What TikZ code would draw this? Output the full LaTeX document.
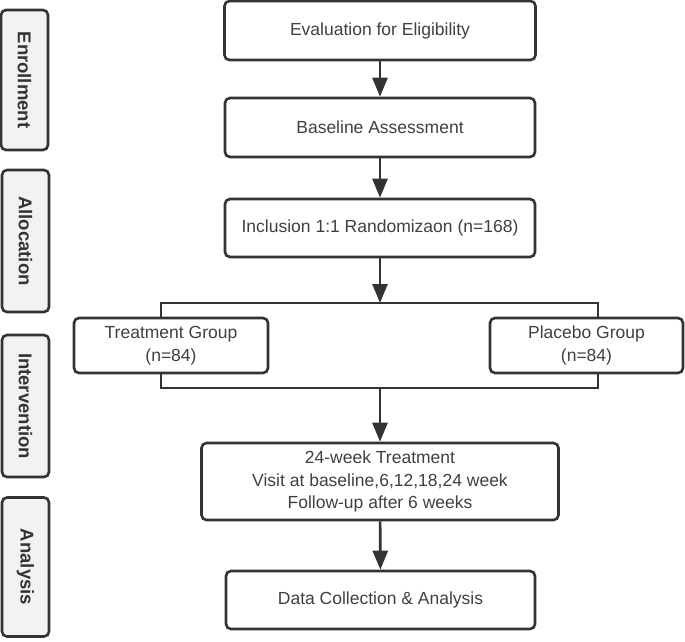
\documentclass[tikz,border=0pt]{standalone}
\usepackage{fontspec}
\setmainfont{Liberation Sans}
\usetikzlibrary{arrows.meta}
\definecolor{sqsqsq}{rgb}{0.2,0.2,0.2}
\definecolor{wwwwww}{rgb}{0.25,0.25,0.25}
\definecolor{fgfgfg}{rgb}{0.95,0.95,0.95}
\tikzset{
  box/.style={draw=sqsqsq,line width=2.6pt,rounded corners=5pt,fill=white,
    text=wwwwww,align=center,inner sep=0pt,
    font=\fontsize{17.5}{22.5}\selectfont},
  stage/.style={draw=sqsqsq,line width=2.6pt,rounded corners=5pt,fill=fgfgfg,
    text=sqsqsq,rotate=-90,inner sep=0pt,
    font=\fontsize{18.5}{22}\selectfont\bfseries},
  flow/.style={draw=sqsqsq,line width=2.6pt,-{Triangle[length=19pt,width=15pt]}},
  link/.style={draw=sqsqsq,line width=2.6pt}
}
\begin{document}
\begin{tikzpicture}[x=1pt,y=-1pt]
	\useasboundingbox (0,0) rectangle (685,641);
	% stages on the left
	\node[stage,minimum width=140,minimum height=47] (enrol) at (24.5,80) {Enrollment};
	\node[stage,minimum width=142,minimum height=47] (alloc) at (25.5,241) {Allocation};
	\node[stage,minimum width=142,minimum height=47] (inter) at (25.5,406) {Intervention};
	\node[stage,minimum width=139,minimum height=47] (anal) at (25.5,567) {Analysis};
	% main flow
	\node[box,minimum width=311,minimum height=59] (elig) at (380,30.5) {Evaluation for Eligibility};
	\node[box,minimum width=310,minimum height=59] (base) at (380,127.5) {Baseline Assessment};
	\node[box,minimum width=310,minimum height=58] (incl) at (380,228) {Inclusion 1:1 Randomizaon (n=168)};
	\node[box,minimum width=194,minimum height=55] (treat) at (171,345.5) {Treatment Group\\(n=84)};
	\node[box,minimum width=193,minimum height=55] (plac) at (586.5,345.5) {Placebo Group\\(n=84)};
	\node[box,minimum width=357,minimum height=77] (week) at (380,481.5) {24-week Treatment\\Visit at baseline,6,12,18,24 week\\Follow-up after 6 weeks};
	\node[box,minimum width=309,minimum height=58] (data) at (380.5,600) {Data Collection \& Analysis};
	\coordinate (tl) at (161,303);
	\coordinate (tr) at (598,303);
	\coordinate (bl) at (161,388);
	\coordinate (br) at (598,388);
	\draw[flow] (elig) -- (base);
	\draw[flow] (base) -- (incl);
	\draw[flow] (incl) -- (incl.south |- tl);
	\draw[link] (tl |- treat.north) -- (tl) -- (tr) -- (tr |- plac.north);
	\draw[link] (bl |- treat.south) -- (bl) -- (br) -- (br |- plac.south);
	\draw[flow] (week.north |- bl) -- (week);
	\draw[flow] (week) -- (data);
\end{tikzpicture}
\end{document}
